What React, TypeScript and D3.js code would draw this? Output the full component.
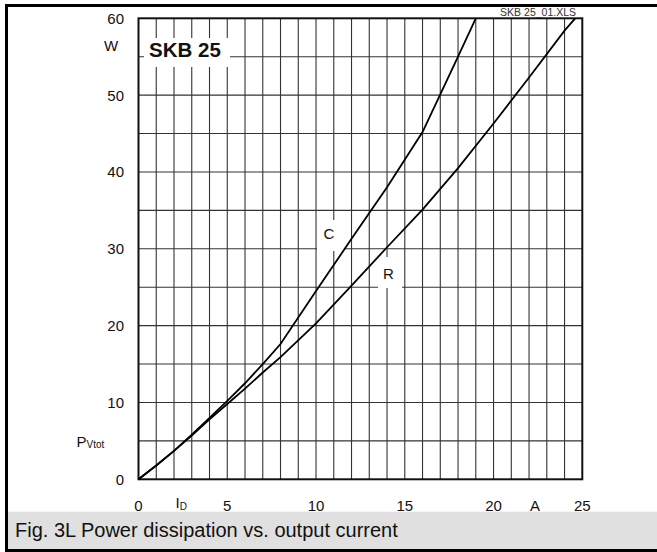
import React from "react";
import * as d3 from "d3";

// curve C (capacitive load): current in A, power in W
const cCurrent = [0, 1, 2, 3, 4, 5, 6, 7, 8, 10, 12, 14, 16, 18, 19];
const cPower = [0, 1.8, 3.7, 5.8, 8.0, 10.2, 12.5, 15.0, 17.6, 24.5, 31.3, 38.0, 45.2, 55.0, 60];

// curve R (resistive load)
const rCurrent = [0, 1, 2, 3, 4, 5, 6, 7, 8, 10, 12, 14, 16, 18, 20, 22, 24, 24.6];
const rPower = [0, 1.8, 3.7, 5.7, 7.8, 9.8, 11.8, 13.9, 15.9, 20.3, 25.2, 30.2, 35.1, 40.5, 46.3, 52.3, 58.4, 60];

const xTicks = [0, 5, 10, 15, 20, 25];
const yTicks = [0, 10, 20, 30, 40, 50, 60];

const W = 657;
const H = 552;
const font = "'Liberation Sans', Arial, Helvetica, sans-serif";

export default function App() {
  const x = d3.scaleLinear().domain([0, 25]).range([138.5, 582.3]);
  const y = d3.scaleLinear().domain([0, 60]).range([479.3, 18.3]);

  const line = d3
    .line<[number, number]>()
    .x((d) => x(d[0]))
    .y((d) => y(d[1]));

  const cData = cCurrent.map((v, i) => [v, cPower[i]] as [number, number]);
  const rData = rCurrent.map((v, i) => [v, rPower[i]] as [number, number]);

  const vGrid = d3.range(1, 25);
  const hGrid = d3.range(5, 60, 5);

  return (
    <svg
      width={W}
      height={H}
      style={{ position: "absolute", left: 0, top: 0, background: "#fff" }}
      fontFamily={font}
    >
      {/* grid */}
      <g stroke="#333" strokeWidth={1.1}>
        {vGrid.map((v) => (
          <line key={"v" + v} x1={x(v)} x2={x(v)} y1={y(0)} y2={y(60)} />
        ))}
        {hGrid.map((v) => (
          <line key={"h" + v} x1={x(0)} x2={x(25)} y1={y(v)} y2={y(v)} />
        ))}
      </g>

      {/* white label boxes breaking the grid */}
      <rect x={144} y={38} width={86} height={29} fill="#fff" />
      <rect x={317} y={220} width={28} height={31} fill="#fff" />
      <rect x={378} y={257} width={24} height={31} fill="#fff" />

      {/* plot frame */}
      <rect
        x={x(0)}
        y={y(60)}
        width={x(25) - x(0)}
        height={y(0) - y(60)}
        fill="none"
        stroke="#111"
        strokeWidth={2}
      />

      {/* curves */}
      <path d={line(cData) ?? ""} fill="none" stroke="#000" strokeWidth={1.8} />
      <path d={line(rData) ?? ""} fill="none" stroke="#000" strokeWidth={1.8} />

      {/* labels in the plot */}
      <text x={149} y={56.5} fontSize={20.5} fontWeight="bold" fill="#111">
        SKB 25
      </text>
      <text x={329} y={239} fontSize={15} textAnchor="middle" fill="#111">
        C
      </text>
      <text x={388.5} y={278.5} fontSize={15} textAnchor="middle" fill="#111">
        R
      </text>
      <text x={576} y={16} fontSize={10.5} textAnchor="end" fill="#333">
        SKB 25_01.XLS
      </text>

      {/* y axis */}
      {yTicks.map((t) => (
        <text key={"yt" + t} x={124} y={y(t) + 5.5} fontSize={15} textAnchor="end" fill="#111">
          {t}
        </text>
      ))}
      <text x={111} y={50.5} fontSize={15} textAnchor="middle" fill="#111">
        W
      </text>
      <text x={76.5} y={446.7} fontSize={15} fill="#111">
        P<tspan fontSize={10} dy={1.5}>Vtot</tspan>
      </text>

      {/* x axis */}
      {xTicks.map((t) => (
        <text key={"xt" + t} x={x(t)} y={511} fontSize={15} textAnchor="middle" fill="#111">
          {t}
        </text>
      ))}
      <text x={175.5} y={508} fontSize={15} fill="#111">
        I<tspan fontSize={10} dy={2}>D</tspan>
      </text>
      <text x={535} y={511} fontSize={15} textAnchor="middle" fill="#111">
        A
      </text>

      {/* caption band */}
      <rect x={5} y={511.7} width={W} height={38} fill="#e0e0e0" />
      <text x={15} y={537} fontSize={20} fill="#111">
        Fig. 3L Power dissipation vs. output current
      </text>

      {/* outer frame */}
      <rect x={6.5} y={5.5} width={W + 10} height={545} fill="none" stroke="#000" strokeWidth={3} />
    </svg>
  );
}
